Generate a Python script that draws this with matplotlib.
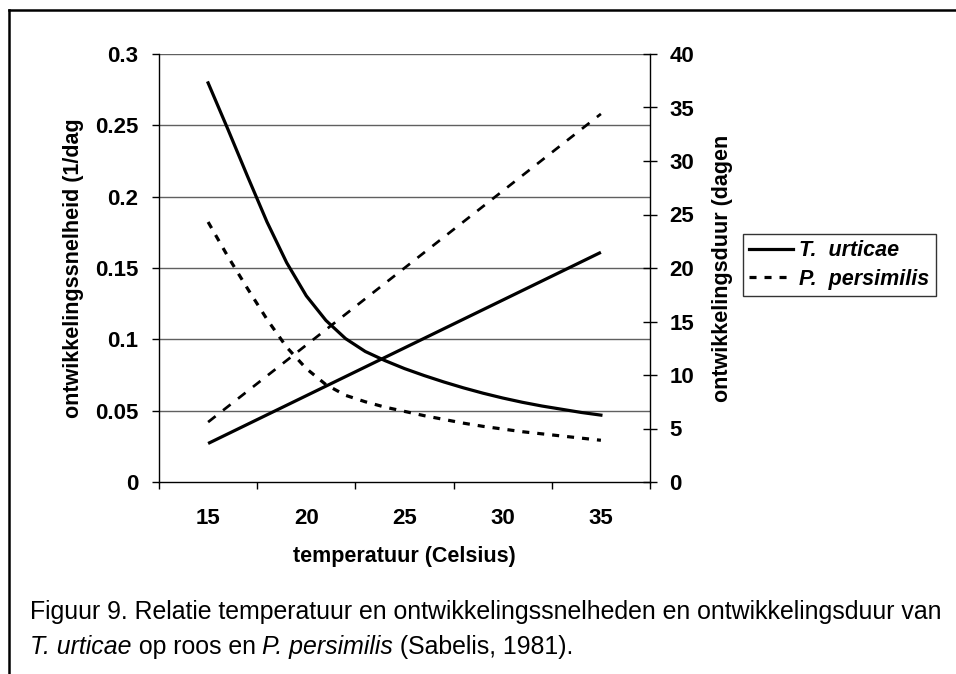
import matplotlib
matplotlib.use("Agg")
import matplotlib.pyplot as plt
from matplotlib.lines import Line2D
from matplotlib.ticker import FixedLocator

# temperature (Celsius)
TEMP_RATE = [15, 20, 25, 30, 35]
RATE_URTICAE = [0.027, 0.0605, 0.094, 0.1275, 0.161]
RATE_PERSIMILIS = [0.042, 0.096, 0.150, 0.204, 0.258]

TEMP_DUR = [15, 16, 17, 18, 19, 20, 21, 22, 23, 24, 25,
            26, 27, 28, 29, 30, 31, 32, 33, 34, 35]
DUR_URTICAE = [37.3, 33.0, 28.6, 24.3, 20.5, 17.4, 15.1, 13.4, 12.2, 11.35, 10.6,
               9.95, 9.35, 8.8, 8.3, 7.85, 7.45, 7.1, 6.8, 6.5, 6.25]
DUR_PERSIMILIS = [24.3, 21.1, 18.1, 15.2, 12.6, 10.6, 9.1, 8.1, 7.5, 7.0, 6.6,
                  6.2, 5.85, 5.5, 5.2, 4.95, 4.7, 4.5, 4.3, 4.1, 3.9]

X_TICKS = [15, 20, 25, 30, 35]
LEFT_TICKS = [0, 0.05, 0.1, 0.15, 0.2, 0.25, 0.3]
LEFT_LABELS = ["0", "0.05", "0.1", "0.15", "0.2", "0.25", "0.3"]
RIGHT_TICKS = [0, 5, 10, 15, 20, 25, 30, 35, 40]

plt.rcParams["font.family"] = ["Liberation Sans", "DejaVu Sans"]

W, H = 956, 674
fig = plt.figure(figsize=(W / 100, H / 100), dpi=100)
ax = fig.add_axes([159 / W, 1 - 482 / H, 491 / W, 428 / H])
ax2 = ax.twinx()

lw = 2.3
ax.plot(TEMP_RATE, RATE_URTICAE, color="black", lw=lw, solid_capstyle="butt", zorder=3)
ax.plot(TEMP_RATE, RATE_PERSIMILIS, color="black", lw=lw * 0.85, ls=(0, (3.5, 3.5)), zorder=3)
ax2.plot(TEMP_DUR, DUR_URTICAE, color="black", lw=lw, label="T.  urticae")
ax2.plot(TEMP_DUR, DUR_PERSIMILIS, color="black", lw=lw, ls=(0, (2.2, 2.5)),
         label="P.  persimilis")

ax.set_xlim(12.5, 37.5)
ax.set_ylim(0, 0.3)
ax2.set_ylim(0, 40)

# gridlines of the left axis
for v in LEFT_TICKS[1:]:
    ax.axhline(v, color="#606060", lw=1.0, zorder=1)

tick_fs = 16
ax.set_xticks(X_TICKS)
ax.set_xticklabels([str(t) for t in X_TICKS], fontweight="bold")
ax.xaxis.set_minor_locator(FixedLocator([12.5, 17.5, 22.5, 27.5, 32.5, 37.5]))
ax.tick_params(axis="x", which="major", length=0, pad=19, labelsize=tick_fs)
ax.tick_params(axis="x", which="minor", length=5, width=1, direction="out")

ax.set_yticks(LEFT_TICKS)
ax.set_yticklabels(LEFT_LABELS, fontweight="bold")
ax.tick_params(axis="y", length=5, width=1, direction="out", pad=10, labelsize=tick_fs)

ax2.set_yticks(RIGHT_TICKS)
ax2.set_yticklabels([str(t) for t in RIGHT_TICKS], fontweight="bold")
ax2.tick_params(axis="y", length=10, width=1, direction="inout", pad=9, labelsize=tick_fs)

for a in (ax, ax2):
    a.spines["top"].set_visible(False)
    for s in ("left", "right", "bottom"):
        a.spines[s].set_linewidth(1.0)
ax.spines["right"].set_visible(False)
ax2.spines["left"].set_visible(False)
ax2.spines["bottom"].set_visible(False)

lab_fs = 15.5
ax.set_xlabel("temperatuur (Celsius)", fontsize=lab_fs, fontweight="bold")
ax.xaxis.set_label_coords(0.5, (482 - 546) / 428)
ax.set_ylabel("ontwikkelingssnelheid (1/dag", fontsize=lab_fs, fontweight="bold")
ax.yaxis.set_label_coords((84 - 159) / 491, 0.5)
ax2.set_ylabel("ontwikkelingsduur (dagen", fontsize=lab_fs, fontweight="bold")
ax2.yaxis.set_label_coords((712 - 159) / 491, 0.5)

leg = ax2.legend(loc="upper left", bbox_to_anchor=(743 / W, 1 - 234 / H),
                 bbox_transform=fig.transFigure, frameon=True, fancybox=False,
                 edgecolor="black", handlelength=2.0, handletextpad=0.3,
                 borderpad=0.3, labelspacing=0.35, borderaxespad=0,
                 prop={"weight": "bold", "style": "italic", "size": 15.5})
leg.get_frame().set_linewidth(1.0)

# outer frame (only top and left visible in the page crop)
fig.add_artist(Line2D([9 / W, 1.0], [1 - 10 / H, 1 - 10 / H], color="black", lw=1.8,
                      transform=fig.transFigure))
fig.add_artist(Line2D([9 / W, 9 / W], [0.0, 1 - 10 / H], color="black", lw=1.8,
                      transform=fig.transFigure))

# caption with italic species names
cap_size = 17.9
fig.text(30 / W, 1 - 619 / H,
         "Figuur 9. Relatie temperatuur en ontwikkelingssnelheden en ontwikkelingsduur van",
         fontsize=cap_size, va="baseline", ha="left")
parts = [("T. urticae", "italic"), (" op roos en ", "normal"),
         ("P. persimilis", "italic"), (" (Sabelis, 1981).", "normal")]
fig.canvas.draw()
renderer = fig.canvas.get_renderer()
x = 30
for txt, style in parts:
    t = fig.text(x / W, 1 - 654 / H, txt, fontsize=cap_size, style=style,
                 va="baseline", ha="left")
    x += t.get_window_extent(renderer).width

fig.savefig("out.png", dpi=100)
